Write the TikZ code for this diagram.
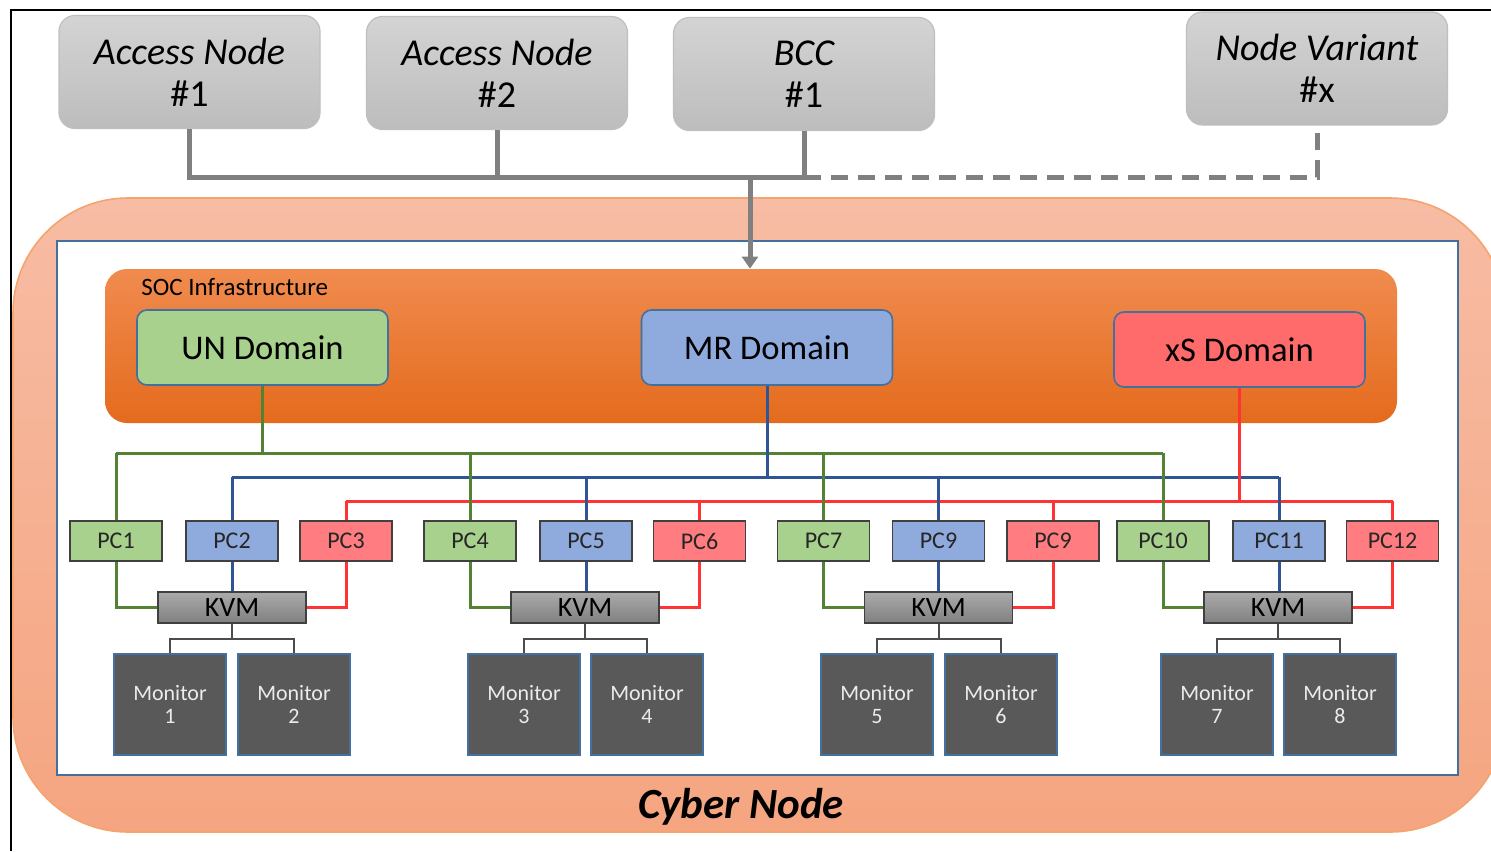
\documentclass[tikz,border=0pt]{standalone}
\usepackage{fontspec}
\setmainfont{Carlito}
\usetikzlibrary{positioning}
\usetikzlibrary{arrows.meta}

\definecolor{frameorange}{HTML}{F4A46C}
\definecolor{cybertop}{HTML}{F7BCA4}
\definecolor{cyberbot}{HTML}{F5A580}
\definecolor{edgeblue}{HTML}{41719C}
\definecolor{soctop}{HTML}{F08B4F}
\definecolor{socbot}{HTML}{E46B1D}
\definecolor{ungreen}{HTML}{A9D18E}
\definecolor{mrblue}{HTML}{8FAADC}
\definecolor{xsred}{HTML}{FF6B6B}
\definecolor{pcred}{HTML}{FF7C80}
\definecolor{glinec}{HTML}{548235}
\definecolor{blinec}{HTML}{2F5597}
\definecolor{rlinec}{HTML}{FF3333}
\definecolor{conngray}{HTML}{808080}
\definecolor{monfill}{HTML}{595959}

\tikzset{
  topbox/.style={draw=black!25, line width=0.6pt, rounded corners=8pt,
    top color=black!17, bottom color=black!26, minimum width=130.5pt,
    minimum height=56.5pt, align=center, inner sep=0pt,
    font=\fontsize{19}{21}\selectfont},
  dombox/.style={draw=edgeblue, line width=0.8pt, rounded corners=5pt,
    minimum width=125.5pt, minimum height=37.5pt, inner sep=0pt,
    font=\fontsize{17.3}{18}\selectfont},
  pcbox/.style={draw=black!75, line width=0.6pt, minimum width=46pt,
    minimum height=20pt, inner sep=0pt, text=black!85,
    font=\fontsize{12}{13}\selectfont},
  kvmbox/.style={draw=black!75, line width=0.6pt, top color=black!33,
    bottom color=black!50, minimum width=74pt, minimum height=15.5pt,
    inner sep=0pt, font=\fontsize{14}{14}\selectfont},
  monbox/.style={draw=edgeblue, line width=0.9pt, fill=monfill,
    minimum width=56pt, minimum height=50.5pt, inner sep=0pt,
    align=center, text=black!8, font=\fontsize{11}{11.8}\selectfont},
  conn/.style={draw=conngray, line width=2.5pt},
  gline/.style={draw=glinec, line width=1.5pt},
  bline/.style={draw=blinec, line width=1.5pt},
  rline/.style={draw=rlinec, line width=1.5pt},
  mline/.style={draw=black!70, line width=1pt}
}

\begin{document}
\begin{tikzpicture}[x=0.5pt,y=-0.5pt]
  \clip (0,0) rectangle (1491,851);
  \fill[white] (0,0) rectangle (1491,851);

  % frame
  \draw[line width=1pt] (11,851) -- (11,10) -- (1491,10);

  % cyber node
  \draw[draw=frameorange, line width=0.8pt, rounded corners=57.5pt,
    top color=cybertop, bottom color=cyberbot] (13,198) rectangle (1505,832);
  \draw[draw=edgeblue, line width=0.9pt, fill=white] (57,241) rectangle (1458,775);
  \node[font=\fontsize{21.5}{22}\selectfont\bfseries\itshape] (cyber) at (741,807) {Cyber Node};

  % SOC infrastructure
  \node[rounded corners=11pt, top color=soctop, bottom color=socbot,
    minimum width=646pt, minimum height=77pt] (soc) at (751,346) {};
  \node[anchor=west, inner sep=1pt, font=\fontsize{12.5}{13}\selectfont] (soclabel) at (139,287) {SOC Infrastructure};
  \node[dombox, fill=ungreen] (un) at (262.5,347.5) {UN Domain};
  \node[dombox, fill=mrblue] (mr) at (767,347.5) {MR Domain};
  \node[dombox, fill=xsred] (xs) at (1239.5,349.5) {xS Domain};

  % top nodes
  \node[topbox] (an1) at (189.5,72) {{\itshape Access Node}\\\#1};
  \node[topbox] (an2) at (497,73) {{\itshape Access Node}\\\#2};
  \node[topbox] (bcc) at (804,74) {{\itshape BCC}\\\#1};
  \node[topbox] (nv) at (1317,68.5) {{\itshape Node Variant}\\\#x};

  \coordinate (bus) at (750,177);
  \draw[conn] (an1.south) |- (bcc.south |- bus) -- (bcc.south);
  \draw[conn] (an2.south) -- (an2.south |- bus);
  \draw[conn, dash pattern=on 8.5pt off 5pt] (bcc.south |- bus) -| (nv.south);
  \draw[conn, -{Triangle[length=6pt,width=8pt]}] (bus) -- (soc.north -| bus);

  % PCs, KVMs and monitors
  \foreach \i/\xa/\xb/\xc/\xk/\la/\lb/\lc/\ma/\mb/\na/\nb in
    {1/116/232/346/232/PC1/PC2/PC3/170/294/1/2,
     2/470/586/699.5/585/PC4/PC5/PC6/524/647/3/4,
     3/823.5/938.5/1053/938.5/PC7/PC9/PC9/877/1001/5/6,
     4/1163/1279/1392.5/1278/PC10/PC11/PC12/1217/1340/7/8} {
    \node[pcbox, fill=ungreen] (pca\i) at (\xa,541) {\la};
    \node[pcbox, fill=mrblue] (pcb\i) at (\xb,541) {\lb};
    \node[pcbox, fill=pcred] (pcc\i) at (\xc,541) {\lc};
    \node[kvmbox] (kvm\i) at (\xk,607.5) {KVM};
    \node[monbox] (mona\i) at (\ma,704.5) {Monitor\\\na};
    \node[monbox] (monb\i) at (\mb,704.5) {Monitor\\\nb};
    \draw[gline] (pca\i.south) |- (kvm\i.west);
    \draw[bline] (pcb\i.south) -- (pcb\i.south |- kvm\i.north);
    \draw[rline] (pcc\i.south) |- (kvm\i.east);
    \draw[mline] (kvm\i.south) -- ++(0,15) -| (mona\i.north);
    \draw[mline] (kvm\i.south) ++(0,15) -| (monb\i.north);
  }

  % domain buses
  \coordinate (gbus) at (0,453);
  \coordinate (bbus) at (0,477);
  \coordinate (rbus) at (0,501);
  \draw[gline] (un.south) -- (un.south |- gbus);
  \draw[gline] (pca1.north |- gbus) -- (pca4.north |- gbus);
  \draw[bline] (mr.south) -- (mr.south |- bbus);
  \draw[bline] (pcb1.north |- bbus) -- (pcb4.north |- bbus);
  \draw[rline] (xs.south) -- (xs.south |- rbus);
  \draw[rline] (pcc1.north |- rbus) -- (pcc4.north |- rbus);
  \foreach \i in {1,...,4} {
    \draw[gline] (pca\i.north) -- (pca\i.north |- gbus);
    \draw[bline] (pcb\i.north) -- (pcb\i.north |- bbus);
    \draw[rline] (pcc\i.north) -- (pcc\i.north |- rbus);
  }
\end{tikzpicture}
\end{document}
